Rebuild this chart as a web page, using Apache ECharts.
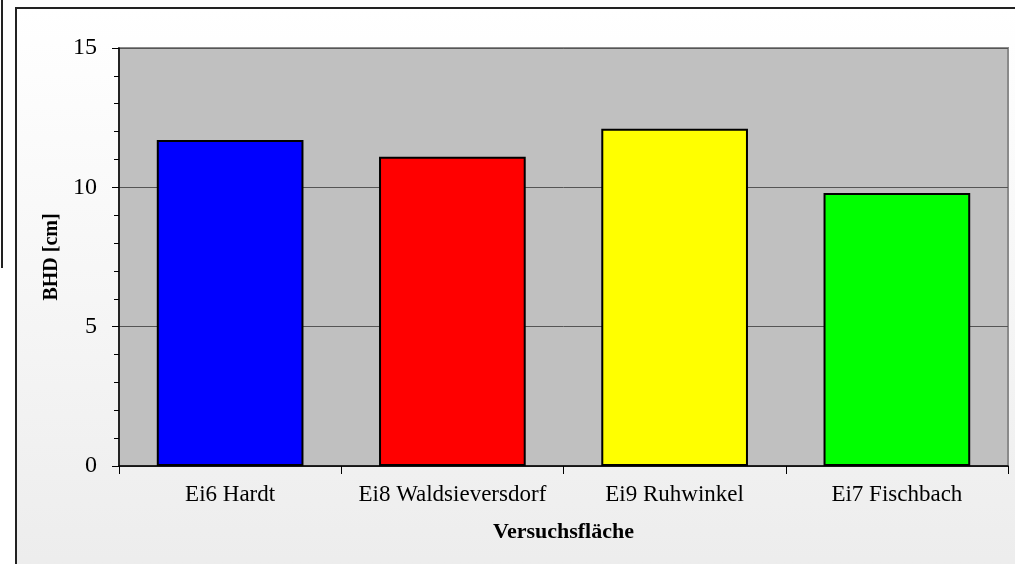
<!DOCTYPE html>
<html>
<head>
<meta charset="utf-8">
<script src="https://cdn.jsdelivr.net/npm/echarts@6/dist/echarts.min.js"></script>
<style>
  html, body { margin: 0; padding: 0; background: #fff; }
  .page { position: relative; width: 1015px; height: 564px; overflow: hidden; }
  .frame {
    position: absolute; left: 15px; top: 7px; width: 1020px; height: 580px;
    border: 2px solid #222;
    background: linear-gradient(to bottom, #ffffff 0%, #f6f6f6 50%, #ececec 100%);
  }
  .strip { position: absolute; left: 1px; top: 0; width: 2px; height: 268px; background: #222; }
  #chart { position: absolute; left: 0; top: 0; width: 1015px; height: 564px; }
</style>
</head>
<body>
<div class="page">
  <div class="strip"></div>
  <div class="frame"></div>
  <div id="chart"></div>
</div>
<script>
let categories = ['Ei6 Hardt', 'Ei8 Waldsieversdorf', 'Ei9 Ruhwinkel', 'Ei7 Fischbach']
let values = [11.7, 11.1, 12.1, 9.8]
let barColors = ['#0000ff', '#ff0000', '#ffff00', '#00ff00']

let font = 'Liberation Serif'

let chart = echarts.init(document.getElementById('chart'))

let option = {
  backgroundColor: 'transparent',
  animation: false,
  grid: {
    left: 119,
    top: 48,
    right: 7,
    bottom: 98,
    show: true,
    backgroundColor: '#c0c0c0',
    borderColor: '#8a8a8a',
    borderWidth: 2
  },
  xAxis: {
    type: 'category',
    data: categories,
    name: 'Versuchsfläche',
    nameLocation: 'middle',
    nameGap: 55,
    nameTextStyle: {fontFamily: font, fontSize: 22, fontWeight: 'bold', color: '#000'},
    axisLine: {lineStyle: {color: '#000', width: 1.5}},
    axisTick: {show: true, interval: 0, length: 8, lineStyle: {color: '#000'}},
    axisLabel: {interval: 0, fontFamily: font, fontSize: 23, color: '#000', margin: 17},
    splitLine: {show: false}
  },
  yAxis: {
    type: 'value',
    min: 0,
    max: 15,
    interval: 5,
    name: 'BHD [cm]',
    nameLocation: 'middle',
    nameGap: 56,
    nameTextStyle: {fontFamily: font, fontSize: 20, fontWeight: 'bold', color: '#000'},
    axisLine: {show: true, lineStyle: {color: '#000', width: 1.5}},
    axisTick: {show: true, length: 7, lineStyle: {color: '#000'}},
    minorTick: {show: true, splitNumber: 5, length: 5, lineStyle: {color: '#000'}},
    axisLabel: {fontFamily: font, fontSize: 24, color: '#000', margin: 22},
    splitLine: {show: true, lineStyle: {color: '#555', width: 1}}
  },
  series: [
    {
      type: 'bar',
      barWidth: '66%',
      data: values.map((v, i) => ({
        value: v,
        itemStyle: {color: barColors[i]}
      })),
      itemStyle: {
        borderColor: '#000',
        borderWidth: 2
      }
    }
  ]
}

chart.setOption(option)
</script>
</body>
</html>
